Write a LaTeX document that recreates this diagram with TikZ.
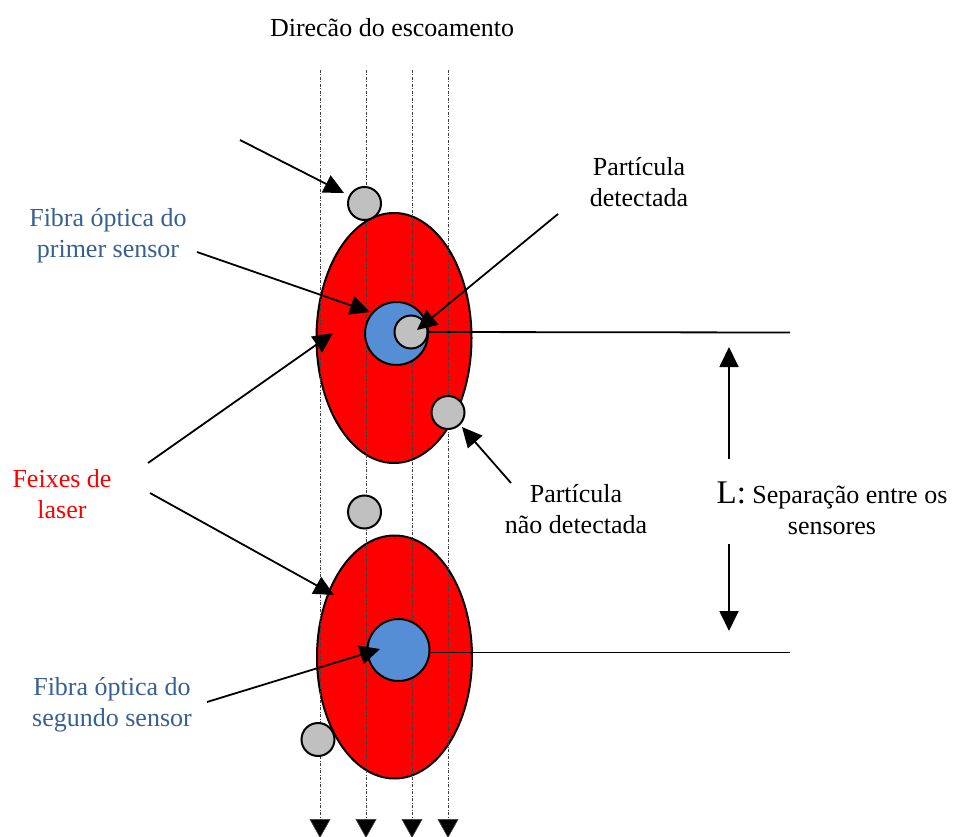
\documentclass[tikz,border=0pt]{standalone}
\usepackage{fontspec}
\setmainfont{Liberation Serif}
\usetikzlibrary{arrows.meta,shapes.geometric}
\definecolor{fibtext}{RGB}{54,96,146}
\definecolor{fibfill}{RGB}{85,142,213}
\definecolor{partgray}{RGB}{192,192,192}
\begin{document}
\begin{tikzpicture}[x=1pt,y=-1pt,
  lbl/.style={inner sep=0pt,align=center,font=\fontsize{26}{31}\selectfont},
  laser/.style={ellipse,draw=black,line width=2pt,fill=red,minimum width=155pt,minimum height=250pt,inner sep=0pt},
  fiber/.style={circle,draw=black,line width=2pt,fill=fibfill,minimum size=63pt,inner sep=0pt},
  part/.style={circle,draw=black,line width=2pt,fill=partgray,minimum size=33pt,inner sep=0pt},
  flow/.style={draw=black!75,line width=0.7pt,dash pattern=on 3pt off 1.5pt on 1pt off 1.5pt,-{Triangle[length=19pt,width=21pt,fill=black]}},
  pointer/.style={draw=black,line width=1.8pt,-{Triangle[length=20pt,width=19pt]}},
  plain/.style={draw=black,line width=1.8pt}]
\useasboundingbox (0,0) rectangle (961,837);
% laser beams
\node[laser,minimum height=250pt] (beam1) at (394,338) {};
\node[laser,minimum height=243pt] (beam2) at (394.5,657) {};
% flow lines
\coordinate (f1s) at (320,70); \coordinate (f1e) at (320,838);
\coordinate (f2s) at (366,70); \coordinate (f2e) at (366,838);
\coordinate (f3s) at (412,70); \coordinate (f3e) at (412,838);
\coordinate (f4s) at (448,70); \coordinate (f4e) at (448,838);
\draw[flow] (f1s) -- (f1e);
\draw[flow] (f2s) -- (f2e);
\draw[flow] (f3s) -- (f3e);
\draw[flow] (f4s) -- (f4e);
% fibers and particles
\node[fiber] (fib1c) at (396.5,333.5) {};
\node[fiber,minimum size=62pt] (fib2c) at (398.5,650) {};
\node[part] (pin) at (411,332) {};
\node[part] (ptop) at (364.5,203.5) {};
\node[part] (pright) at (448,412.5) {};
\node[part] (pmid) at (364.5,512) {};
\node[part] (pbl) at (318,739.5) {};
% separation lines
\coordinate (h1e) at (790,332.5);
\coordinate (h2e) at (790,652.5);
\draw[plain] (pin.east) -- (h1e);
\draw[plain] (fib2c.east |- 0,652.5) -- (h2e);
\coordinate (uS) at (729,459); \coordinate (uT) at (729,347);
\coordinate (dS) at (729,544); \coordinate (dT) at (729,631);
\draw[pointer] (uS) -- (uT);
\draw[pointer] (dS) -- (dT);
% labels
\node[lbl] (dir) at (392,28) {Direcão do escoamento};
\node[lbl] (pdet) at (639,182) {Partícula\\detectada};
\node[lbl,text=fibtext] (fib1) at (108,236) {Fibra óptica do\\primer sensor};
\node[lbl,text=red] (feix) at (62,494) {Feixes de\\laser};
\node[lbl] (pnd) at (576,509) {Partícula\\não detectada};
\node[lbl] (lsep) at (832,508) {{\fontsize{33}{31}\selectfont L:} Separação entre os\\sensores};
\node[lbl,text=fibtext] (fib2) at (112,705) {Fibra óptica do\\segundo sensor};
% pointers
\coordinate (a0s) at (240,140); \coordinate (a0t) at (344,193);
\draw[pointer] (a0s) -- (a0t);
\coordinate (a1s) at (197,252); \coordinate (a1t) at (370,312);
\draw[pointer] (a1s) -- (a1t);
\coordinate (a2s) at (558,214); \coordinate (a2t) at (417,330);
\draw[pointer] (a2s) -- (a2t);
\coordinate (a3s) at (148,463); \coordinate (a3t) at (333,333);
\draw[pointer] (a3s) -- (a3t);
\coordinate (a4s) at (150,493); \coordinate (a4t) at (334,595);
\draw[pointer] (a4s) -- (a4t);
\coordinate (a5s) at (511,483); \coordinate (a5t) at (462,427);
\draw[pointer] (a5s) -- (a5t);
\coordinate (a6s) at (207,702); \coordinate (a6t) at (380,649);
\draw[pointer] (a6s) -- (a6t);
\end{tikzpicture}
\end{document}
